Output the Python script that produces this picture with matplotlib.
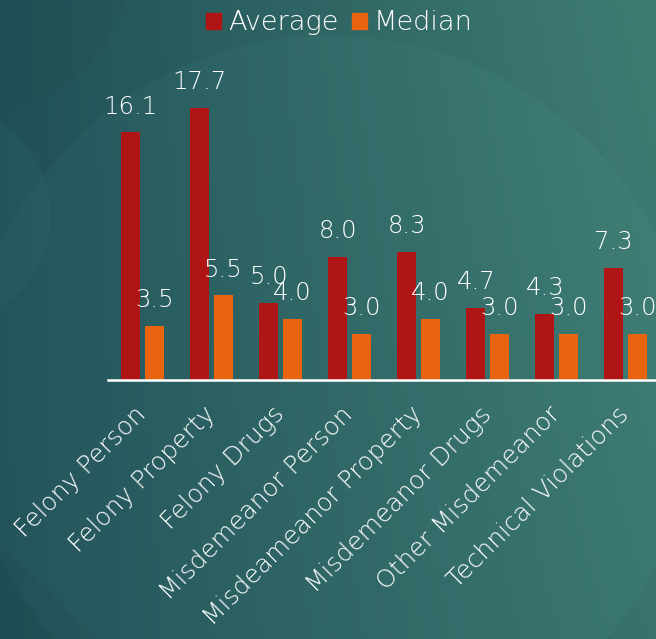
import numpy as np
import matplotlib
matplotlib.use("Agg")
import matplotlib.pyplot as plt
from matplotlib.patches import Patch

categories = ["Felony Person", "Felony Property", "Felony Drugs",
              "Misdemeanor Person", "Misdeameanor Property", "Misdemeanor Drugs",
              "Other Misdemeanor", "Technical Violations"]
average = [16.1, 17.7, 5.0, 8.0, 8.3, 4.7, 4.3, 7.3]
median = [3.5, 5.5, 4.0, 3.0, 4.0, 3.0, 3.0, 3.0]

avg_color = "#b01515"
med_color = "#e8640f"
font = dict(family="DejaVu Sans", weight="light")

W, H = 656, 639
fig = plt.figure(figsize=(W / 100, H / 100), dpi=100)

# teal gradient backdrop with soft circular shapes
yy, xx = np.mgrid[0:H, 0:W].astype(float)
dark = np.array([0x1e, 0x4c, 0x54]) / 255
light = np.array([0x3e, 0x7c, 0x72]) / 255
t = np.clip(0.72 * xx / W + 0.22 * (1 - yy / H) * (xx / W) + 0.08, 0, 1)
img = dark[None, None, :] * (1 - t[..., None]) + light[None, None, :] * t[..., None]
big = ((xx - 330) ** 2 + (yy - 400) ** 2) < 365 ** 2
img[big] += np.array([0.012, 0.018, 0.018])
small = ((xx + 60) ** 2 + (yy - 215) ** 2) < 110 ** 2
img[small] += np.array([0.006, 0.018, 0.022])
topleft = ((xx + 20) ** 2 + (yy + 40) ** 2) < 150 ** 2
img[topleft] *= 0.975
corner = (xx / W + (H - yy) / H) < 0.15
img[corner] *= 0.96
img = np.clip(img, 0, 1)
bg = fig.add_axes([0, 0, 1, 1])
bg.imshow(img, aspect="auto", extent=(0, 1, 0, 1), origin="upper")
bg.set_axis_off()

ax = fig.add_axes([108 / W, 259 / H, 552 / W, 307.5 / H])
ax.patch.set_alpha(0)
x = np.arange(len(categories))
bw = 0.275
off = 0.17
b1 = ax.bar(x - off, average, bw, color=avg_color)
b2 = ax.bar(x + off, median, bw, color=med_color)
for bars, vals in ((b1, average), (b2, median)):
    for rect, v in zip(bars, vals):
        ax.annotate(f"{v:.1f}", (rect.get_x() + rect.get_width() / 2, v),
                    xytext=(0, 10), textcoords="offset points",
                    ha="center", va="bottom", color="white",
                    fontsize=17.5, **font)

ax.set_xlim(-0.5, len(categories) - 0.5)
ax.set_ylim(0, 20)
ax.set_yticks([])
ax.set_xticks(x)
ax.set_xticklabels(categories, rotation=45, ha="right", va="center",
                   rotation_mode="anchor", color="white", fontsize=18, **font)
ax.tick_params(axis="x", length=0, pad=22)
for s in ("top", "right", "left"):
    ax.spines[s].set_visible(False)
ax.spines["bottom"].set_color("white")
ax.spines["bottom"].set_linewidth(1.8)

handles = [Patch(color=avg_color, label="Average"), Patch(color=med_color, label="Median")]
fig.legend(handles=handles, loc="upper center", bbox_to_anchor=(0.517, 1.022), ncol=2,
           frameon=False, handlelength=0.55, handleheight=0.55, handletextpad=0.25,
           columnspacing=0.5, prop={"family": "DejaVu Sans", "weight": "light", "size": 19.5},
           labelcolor="white")

fig.savefig("out.png", dpi=100)
